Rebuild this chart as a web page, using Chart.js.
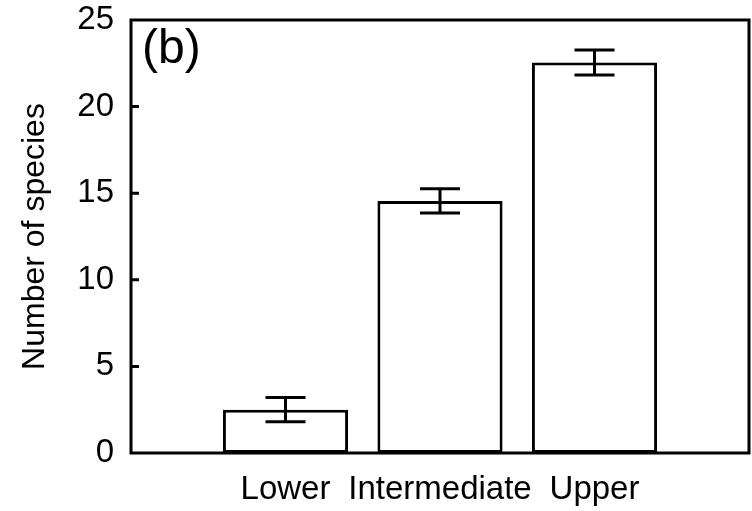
<!DOCTYPE html>
<html>
<head>
<meta charset="utf-8">
<script src="https://cdn.jsdelivr.net/npm/chart.js@4/dist/chart.umd.min.js"></script>
<style>
  html, body { margin: 0; padding: 0; background: #fff; }
  #wrap { width: 752px; height: 511px; }
</style>
</head>
<body>
<div id="wrap"><canvas id="chartSpecies"></canvas></div>
<script>
const categories = ['Lower', 'Intermediate', 'Upper'];
const means      = [2.5, 14.55, 22.55];
const errors     = [0.7, 0.7, 0.72];
const yTicks     = [0, 5, 10, 15, 20, 25];
const panelLabel = '(b)';

const FONT = "'Liberation Sans', Arial, sans-serif";

// blank slots either side so the bars sit at 1, 2, 3 on a 0..4 axis
const labels = ['', ...categories, ''];
const values = [null, ...means, null];

const errorBars = {
  id: 'errorBars',
  afterDatasetsDraw(chart) {
    const { ctx, scales: { y } } = chart;
    const meta = chart.getDatasetMeta(0);
    ctx.save();
    ctx.strokeStyle = '#000';
    ctx.lineWidth = 3;
    means.forEach((m, i) => {
      const bar = meta.data[i + 1];
      const top = y.getPixelForValue(m + errors[i]);
      const bot = y.getPixelForValue(m - errors[i]);
      ctx.beginPath();
      ctx.moveTo(bar.x, top); ctx.lineTo(bar.x, bot);
      ctx.moveTo(bar.x - 20, top); ctx.lineTo(bar.x + 20, top);
      ctx.moveTo(bar.x - 20, bot); ctx.lineTo(bar.x + 20, bot);
      ctx.stroke();
    });
    ctx.restore();
  }
};

const frame = {
  id: 'frame',
  afterDraw(chart) {
    const { ctx, chartArea: a, scales: { y } } = chart;
    ctx.save();
    ctx.strokeStyle = '#000';
    ctx.lineWidth = 3;
    ctx.strokeRect(a.left, a.top, a.right - a.left, a.bottom - a.top);
    // inward ticks
    ctx.beginPath();
    yTicks.slice(1, -1).forEach(v => {
      const py = y.getPixelForValue(v);
      ctx.moveTo(a.left, py); ctx.lineTo(a.left + 8, py);
    });
    ctx.stroke();
    ctx.fillStyle = '#000';
    ctx.font = `48px ${FONT}`;
    ctx.textBaseline = 'alphabetic';
    ctx.textAlign = 'left';
    ctx.fillText(panelLabel, a.left + 11, a.top + 43);
    ctx.restore();
  }
};

new Chart(document.getElementById('chartSpecies'), {
  type: 'bar',
  data: {
    labels,
    datasets: [{
      data: values,
      backgroundColor: '#fff',
      borderColor: '#000',
      borderWidth: 3,
      borderSkipped: false,
      categoryPercentage: 1,
      barPercentage: 0.81
    }]
  },
  options: {
    responsive: true,
    maintainAspectRatio: false,
    animation: false,
    layout: { padding: { top: 20, right: 3, left: 0, bottom: 0 } },
    plugins: { legend: { display: false }, tooltip: { enabled: false } },
    scales: {
      x: {
        offset: false,
        grid: { display: false, drawTicks: false },
        border: { display: false },
        ticks: { color: '#000', font: { family: FONT, size: 33 }, padding: 17, maxRotation: 0, autoSkip: false },
        afterFit(s) { s.height = 58; s.paddingLeft = 0; s.paddingRight = 0; }
      },
      y: {
        min: 0, max: 25,
        grid: { display: false, drawTicks: false },
        border: { display: false },
        ticks: { stepSize: 5, color: '#000', font: { family: FONT, size: 33 }, padding: 17 },
        title: { display: true, text: 'Number of species', color: '#000', font: { family: FONT, size: 32 }, padding: { top: 16, bottom: 0 } },
        afterFit(s) { s.width = 131; s.paddingTop = 0; s.paddingBottom = 0; }
      }
    }
  },
  plugins: [errorBars, frame]
});
</script>
</body>
</html>
